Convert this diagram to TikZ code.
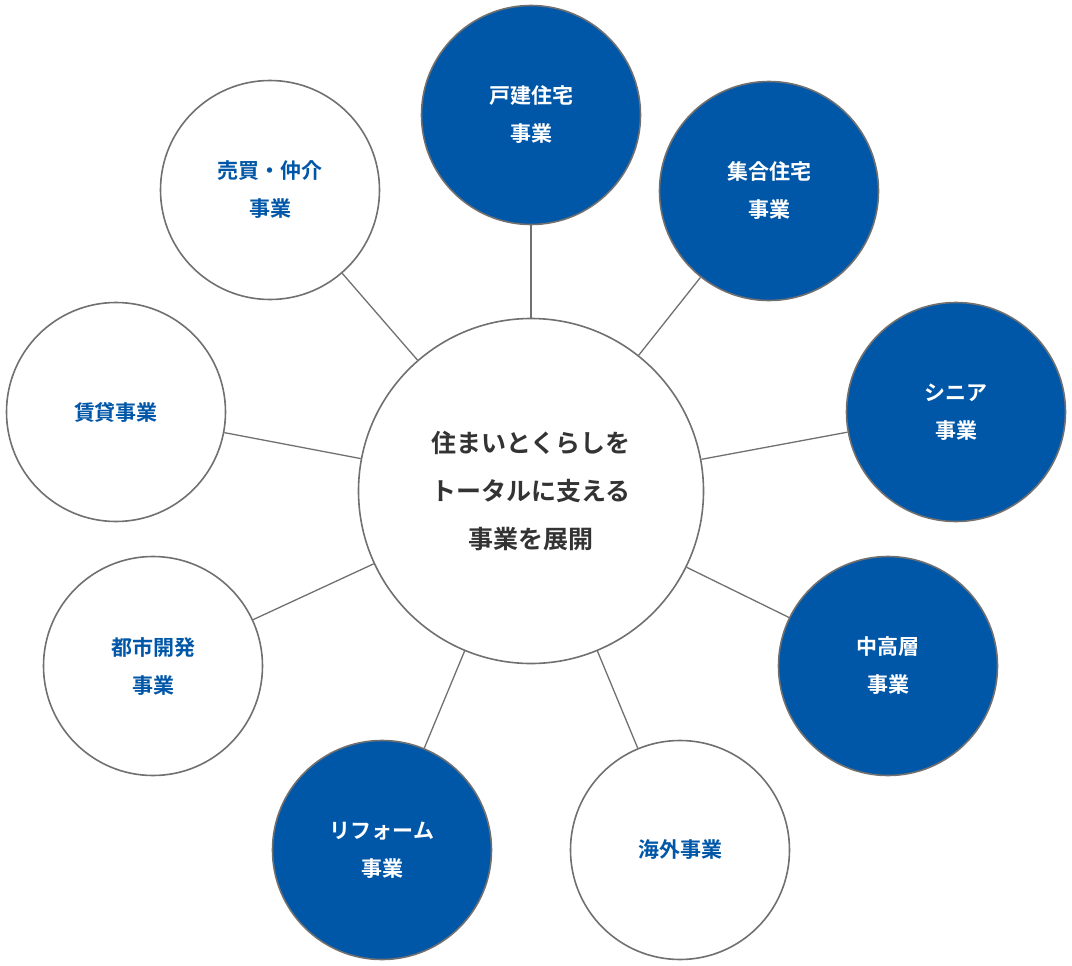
\documentclass[tikz,border=0pt]{standalone}
\usepackage{fontspec}
\newfontfamily\jp{Noto Sans CJK JP Bold}
\definecolor{mblue}{HTML}{0057A8}
\definecolor{mgray}{HTML}{707070}
\definecolor{mtext}{HTML}{333333}
\begin{document}
\begin{tikzpicture}[x=1pt,y=-1pt,
  outer/.style={circle,draw=mgray,line width=1.6pt,minimum size=219pt,inner sep=0pt,align=center,font=\jp\fontsize{21}{38}\selectfont},
  filled/.style={outer,fill=mblue,text=white},
  plain/.style={outer,fill=white,text=mblue},
  link/.style={mgray,line width=1.3pt}]
\useasboundingbox (0,0) rectangle (1072,966);
\node[circle,draw=mgray,line width=1.6pt,minimum size=345pt,inner sep=0pt,align=center,text=mtext,font=\jp\fontsize{25}{48}\selectfont] (c) at (531,491) {住まいとくらしを\\トータルに支える\\事業を展開};
\node[filled] (a1) at (531,115) {戸建住宅\\事業};
\node[filled] (a2) at (769,191) {集合住宅\\事業};
\node[filled] (a3) at (956,412) {シニア\\事業};
\node[filled] (a4) at (888,666) {中高層\\事業};
\node[plain] (a5) at (680,850) {海外事業};
\node[filled] (a6) at (382,850) {リフォーム\\事業};
\node[plain] (a7) at (153,666) {都市開発\\事業};
\node[plain] (a8) at (116,412) {賃貸事業};
\node[plain] (a9) at (270,190) {売買・仲介\\事業};
\foreach \n in {a1,a2,a3,a4,a5,a6,a7,a8,a9} \draw[link] (c) -- (\n);
\end{tikzpicture}
\end{document}
